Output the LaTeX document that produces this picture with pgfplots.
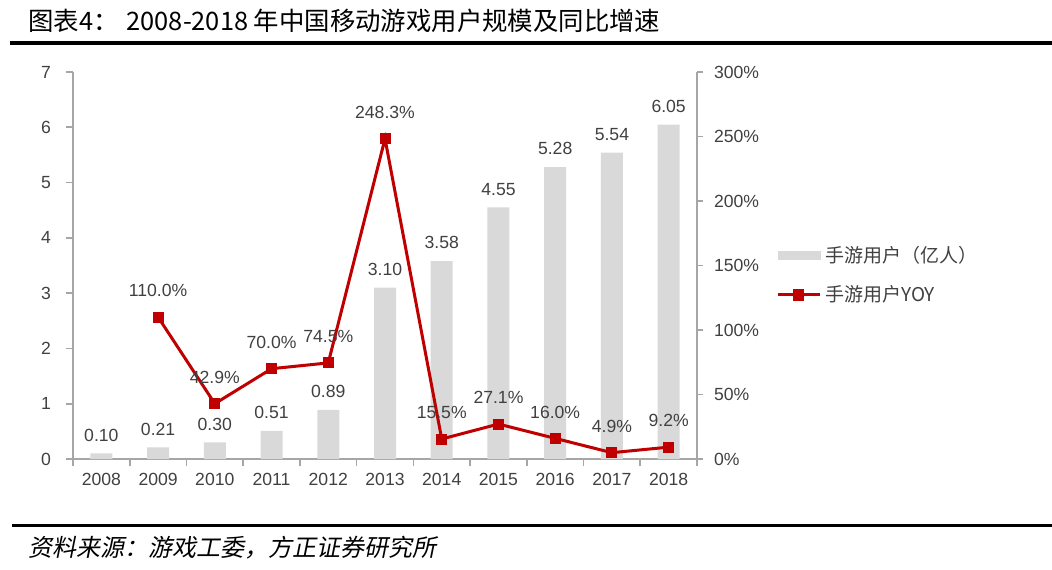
\documentclass[border=0pt]{standalone}
\usepackage{fontspec}
\setmainfont{Liberation Sans}
\newfontfamily\cjk{Noto Sans CJK SC}
\newfontfamily\cjkit[FakeSlant=0.2]{Noto Sans CJK SC}
\usepackage{pgfplots}
\pgfplotsset{compat=1.18}
\definecolor{barg}{HTML}{D9D9D9}
\definecolor{lred}{HTML}{C00000}
\definecolor{axg}{HTML}{A6A6A6}
\definecolor{txt}{HTML}{404040}
\begin{document}
\begin{tikzpicture}
\useasboundingbox (0,0) rectangle (526pt,284.5pt);
\node[anchor=west, inner sep=0] at (14pt,274pt) {\cjk\fontsize{12.7}{14}\selectfont 图表4：\hspace{4pt}2008-2018 年中国移动游戏用户规模及同比增速};
\draw[line width=2pt] (5pt,263pt) -- (526pt,263pt);
\draw[line width=1.5pt] (6pt,22pt) -- (526pt,22pt);
\node[anchor=west, inner sep=0] at (14pt,10.5pt) {\cjkit\fontsize{12}{14}\selectfont 资料来源：游戏工委，方正证券研究所};

\begin{axis}[
  at={(36.5pt,55pt)}, anchor=south west,
  scale only axis, width=312pt, height=193.5pt,
  xmin=-0.5, xmax=10.5, ymin=0, ymax=7,
  ytick={0,...,7},
  xtick={-0.5,0.5,...,10.5},
  xticklabels={},
  extra x ticks={0,...,10},
  extra x tick labels={2008,2009,2010,2011,2012,2013,2014,2015,2016,2017,2018},
  extra x tick style={tick style={draw=none}},
  tick style={axg, line width=0.8pt},
  tick align=outside,
  major tick length=3.5pt,
  axis x line*=bottom, axis y line*=left,
  axis line style={axg, line width=0.8pt},
  /pgf/number format/assume math mode=true,
  tick label style={font=\fontsize{8.8}{10}\selectfont, text=txt},
  yticklabel style={xshift=-4pt},
  ybar, bar width=11pt,
  nodes near coords,
  every node near coord/.append style={font=\fontsize{8.8}{10}\selectfont, text=txt, yshift=2.5pt, /pgf/number format/.cd, fixed, zerofill, precision=2, assume math mode=true},
  clip=false,
]
\addplot[fill=barg, draw=none] coordinates {
(0,0.10) (1,0.21) (2,0.30) (3,0.51) (4,0.89) (5,3.10) (6,3.58) (7,4.55) (8,5.28) (9,5.54) (10,6.05)};
\end{axis}

\begin{axis}[
  at={(36.5pt,55pt)}, anchor=south west,
  scale only axis, width=312pt, height=193.5pt,
  xmin=-0.5, xmax=10.5, ymin=0, ymax=300,
  ytick={0,50,...,300},
  yticklabel={\pgfmathprintnumber{\tick}\%},
  axis x line=none, axis y line*=right,
  axis line style={axg, line width=0.8pt},
  y tick style={axg, line width=0.8pt},
  tick align=outside, major tick length=3pt,
  /pgf/number format/assume math mode=true,
  tick label style={font=\fontsize{8.8}{10}\selectfont, text=txt},
  yticklabel style={xshift=2pt},
  clip=false,
  legend style={at={(1.117,0.475)}, anchor=west, draw=none, fill=none,
    font=\fontsize{9.5}{11}\selectfont, text=txt, row sep=6pt,
    cells={anchor=west}},
]
\addlegendimage{legend image code/.code={\fill[barg] (0pt,-2pt) rectangle (21pt,2pt);}}
\addlegendentry{\cjk 手游用户（亿人）}
\addplot[lred, line width=1.5pt, mark=square*, mark size=2pt, mark options={solid, fill=lred},
  nodes near coords={\pgfmathprintnumber[fixed,zerofill,precision=1]{\pgfplotspointmeta}\%},
  every node near coord/.append style={font=\fontsize{8.8}{10}\selectfont, text=txt, yshift=6pt, /pgf/number format/assume math mode=true},
  legend image code/.code={\draw[lred, line width=1.5pt] (0pt,0pt) -- (21pt,0pt); \fill[lred] (8.5pt,-2.2pt) rectangle (12.5pt,2.2pt);}]
coordinates {(1,110.0) (2,42.9) (3,70.0) (4,74.5) (5,248.3) (6,15.5) (7,27.1) (8,16.0) (9,4.9) (10,9.2)};
\addlegendentry{\cjk 手游用户YOY}
\end{axis}
\end{tikzpicture}
\end{document}
